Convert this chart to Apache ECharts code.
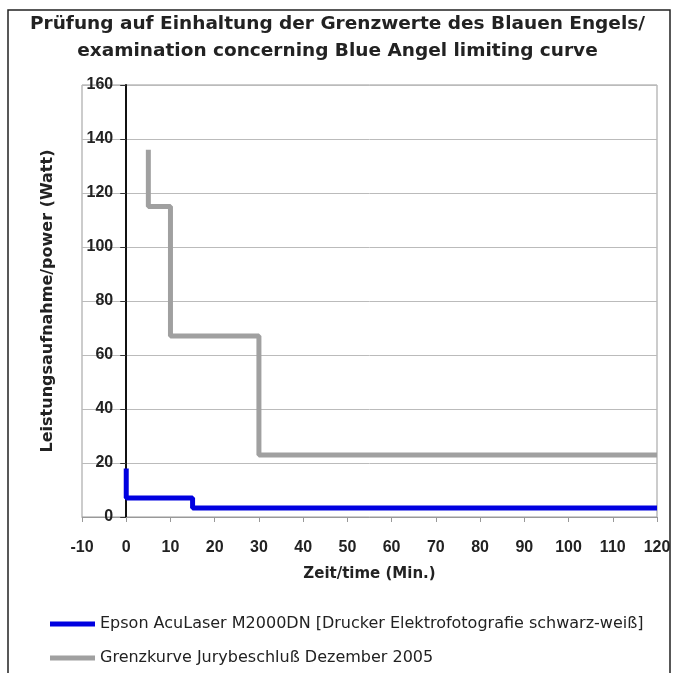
<!DOCTYPE html>
<html><head><meta charset="utf-8">
<script src="https://cdn.jsdelivr.net/npm/echarts@6/dist/echarts.min.js"></script>
<style>html,body{margin:0;padding:0;background:#fff}#c{width:675px;height:673px}</style>
</head><body><div id="c"></div>
<script>
const titleLines = ["Prüfung auf Einhaltung der Grenzwerte des Blauen Engels/", "examination concerning Blue Angel limiting curve"];
const xName = "Zeit/time (Min.)";
const yName = "Leistungsaufnahme/power (Watt)";
const seriesNames = ["Epson AcuLaser M2000DN [Drucker Elektrofotografie schwarz-weiß]", "Grenzkurve Jurybeschluß Dezember 2005"];
const epsonX = [0, 0, 15, 15, 120];
const epsonY = [18, 7, 7, 3.3, 3.3];
const limitX = [5, 5, 10, 10, 30, 30, 120];
const limitY = [136, 115, 115, 67, 67, 23, 23];
const xTicks = {min: -10, max: 120, interval: 10};
const yTicks = {min: 0, max: 160, interval: 20};

const pts = (xs, ys) => xs.map((x, i) => [x, ys[i]]);
const W = 675, gridLeft = 82, gridRight = 18;
const pxPerUnit = (W - gridLeft - gridRight) / (xTicks.max - xTicks.min);
const yAxisShift = -(0 - xTicks.min) * pxPerUnit;
const bold = 'DejaVu Sans, Arial';
const chart = echarts.init(document.getElementById('c'));
chart.setOption({
  animation: false,
  backgroundColor: '#fff',
  title: {
    text: titleLines.join('\n'), left: 'center', top: 6,
    textStyle: {fontFamily: bold, fontSize: 18.5, fontWeight: 'bold', color: '#222', lineHeight: 27}
  },
  graphic: [{type: 'rect', shape: {x: 8, y: 10, width: 662, height: 670}, style: {fill: 'none', stroke: '#222', lineWidth: 1.5}, silent: true}],
  grid: {left: gridLeft, right: gridRight, top: 85, bottom: 156, show: true, borderColor: '#999', borderWidth: 1, containLabel: false, outerBoundsMode: 'none'},
  legend: {
    orient: 'vertical', left: 50, top: 615, padding: 0, itemGap: 16, itemWidth: 45, itemHeight: 5, icon: 'rect',
    textStyle: {fontFamily: 'DejaVu Sans, Arial', fontSize: 16, color: '#222', lineHeight: 18},
    data: seriesNames
  },
  xAxis: {
    type: 'value', min: xTicks.min, max: xTicks.max, interval: xTicks.interval,
    name: xName, nameLocation: 'middle', nameGap: 50,
    nameTextStyle: {fontFamily: bold, fontSize: 15, fontWeight: 'bold', color: '#222'},
    axisLine: {show: true, onZero: false, lineStyle: {color: '#999', width: 1}},
    axisTick: {show: true, length: 5, lineStyle: {color: '#999'}},
    axisLabel: {margin: 23, fontFamily: 'Liberation Sans, Arial', fontSize: 16, fontWeight: 'bold', color: '#222'},
    splitLine: {show: false}
  },
  yAxis: {
    type: 'value', min: yTicks.min, max: yTicks.max, interval: yTicks.interval,
    offset: yAxisShift,
    name: yName, nameLocation: 'middle', nameGap: 70, nameRotate: 90,
    nameTextStyle: {fontFamily: bold, fontSize: 16, fontWeight: 'bold', color: '#222'},
    axisLine: {show: true, onZero: false, lineStyle: {color: '#111', width: 2}},
    axisTick: {show: true, length: 6, lineStyle: {color: '#333'}},
    axisLabel: {margin: 13, fontFamily: 'Liberation Sans, Arial', fontSize: 16, fontWeight: 'bold', color: '#222'},
    splitLine: {show: true, lineStyle: {color: '#bbb', width: 1}}
  },
  series: [
    {name: seriesNames[0], type: 'line', data: pts(epsonX, epsonY), showSymbol: false, symbol: 'none',
     lineStyle: {color: '#0000e0', width: 5}, itemStyle: {color: '#0000e0'}, z: 3},
    {name: seriesNames[1], type: 'line', data: pts(limitX, limitY), showSymbol: false, symbol: 'none',
     lineStyle: {color: '#a0a0a0', width: 5}, itemStyle: {color: '#a0a0a0'}, z: 2}
  ]
});
</script></body></html>
